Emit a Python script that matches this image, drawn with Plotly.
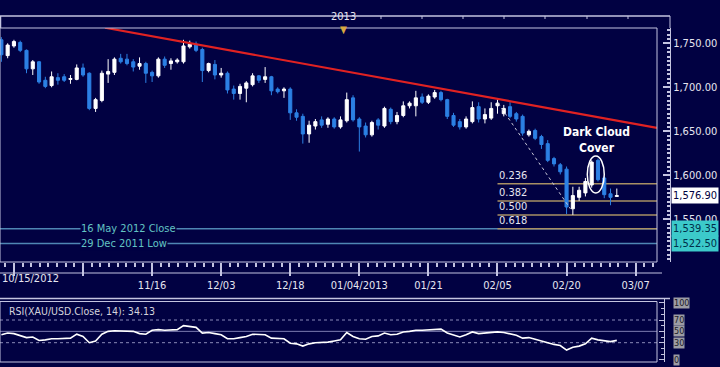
import numpy as np
import pandas as pd
import plotly.graph_objects as go

# ---------------- data ----------------
opens = [1754, 1736, 1747, 1751, 1742, 1721, 1729, 1708, 1702, 1711,
         1712, 1709, 1709, 1722, 1716, 1676, 1685, 1715, 1717, 1733,
         1732, 1729, 1724, 1727, 1717, 1713, 1732, 1727, 1729, 1729,
         1746, 1749, 1743, 1719, 1726, 1714, 1716, 1698, 1693, 1699,
         1703, 1713, 1709, 1712, 1698, 1696, 1698, 1671, 1667, 1647,
         1656, 1663, 1658, 1664, 1655, 1662, 1688, 1664, 1656, 1646,
         1663, 1656, 1675, 1661, 1668, 1679, 1679, 1689, 1683, 1689,
         1694, 1686, 1668, 1661, 1655, 1661, 1678, 1664, 1665, 1679,
         1670, 1678, 1670, 1667, 1646, 1651, 1644, 1636, 1619, 1612,
         1607, 1562, 1575, 1580, 1589, 1617, 1597, 1579, 1576.0]
highs = [1757, 1750, 1754, 1753, 1743, 1731, 1730, 1712, 1718, 1716,
         1715, 1714, 1726, 1727, 1717, 1688, 1719, 1732, 1734, 1738,
         1738, 1732, 1734, 1729, 1719, 1734, 1735, 1733, 1733, 1754,
         1753, 1752, 1745, 1728, 1731, 1722, 1718, 1702, 1704, 1707,
         1716, 1714, 1723, 1713, 1700, 1700, 1700, 1675, 1670, 1662,
         1664, 1667, 1666, 1666, 1667, 1694, 1691, 1666, 1660, 1662,
         1665, 1678, 1677, 1672, 1684, 1684, 1696, 1693, 1692, 1697,
         1696, 1687, 1671, 1664, 1667, 1684, 1683, 1676, 1683, 1687,
         1680, 1683, 1672, 1669, 1652, 1653, 1646, 1640, 1621, 1614,
         1610, 1587, 1587, 1597, 1617, 1619, 1599, 1585, 1585]
lows = [1729, 1733, 1745, 1740, 1716, 1714, 1704, 1699, 1700, 1703,
        1706, 1704, 1708, 1712, 1674, 1672, 1683, 1705, 1714, 1727,
        1725, 1718, 1720, 1705, 1706, 1711, 1722, 1720, 1727, 1727,
        1744, 1740, 1706, 1717, 1709, 1711, 1693, 1686, 1686, 1683,
        1701, 1705, 1705, 1691, 1693, 1688, 1663, 1662, 1636, 1637,
        1652, 1654, 1654, 1653, 1653, 1660, 1661, 1627, 1643, 1644,
        1652, 1654, 1658, 1658, 1666, 1676, 1667, 1681, 1681, 1687,
        1684, 1664, 1655, 1652, 1653, 1659, 1660, 1659, 1663, 1670,
        1667, 1665, 1661, 1645, 1644, 1640, 1630, 1615, 1610, 1601,
        1556, 1555, 1571, 1576, 1586, 1593, 1574, 1566, 1575.5]
closes = [1737, 1748, 1752, 1742, 1721, 1729, 1706, 1701, 1712, 1708,
          1708, 1710, 1722, 1714, 1676, 1686, 1716, 1718, 1732, 1729,
          1727, 1723, 1727, 1716, 1713, 1732, 1725, 1730, 1731, 1747,
          1749, 1742, 1719, 1727, 1714, 1716, 1697, 1693, 1701, 1705,
          1713, 1708, 1712, 1696, 1695, 1698, 1671, 1666, 1647, 1657,
          1661, 1657, 1664, 1655, 1663, 1686, 1663, 1655, 1646, 1660,
          1657, 1676, 1661, 1668, 1679, 1682, 1688, 1683, 1690, 1694,
          1686, 1667, 1657, 1655, 1664, 1677, 1664, 1669, 1676, 1682,
          1676, 1667, 1664, 1648, 1650, 1642, 1635, 1617, 1613, 1604,
          1564, 1577, 1583, 1593, 1615, 1595, 1578, 1575, 1576.9]
rsi = [44, 47, 46, 43, 39, 40, 34, 35, 37, 37,
       37, 38, 45, 41, 30, 33, 45, 50, 51, 51,
       50, 50, 46, 45, 52, 53, 52, 52, 53, 60,
       59, 57, 47, 48, 46, 44, 37, 37, 39, 41,
       45, 44, 44, 38, 38, 37, 29, 28, 24, 28,
       30, 30, 31, 33, 35, 48, 41, 37, 36, 41,
       42, 47, 44, 45, 49, 50, 52, 52, 53, 54,
       54, 47, 43, 40, 44, 49, 46, 47, 49, 49,
       48, 45, 43, 38, 39, 36, 33, 29, 27, 25,
       17, 22, 24, 28, 38, 35, 33, 32, 34.13]

holidays = ["2012-12-25", "2013-01-01"]
calendar = pd.bdate_range("2012-10-15", "2013-03-12").drop(pd.to_datetime(holidays))
dates = calendar[:len(closes)]
x_idx = list(range(len(dates)))

tick_dates = ["2012-10-17", "2012-11-01", "2012-11-16", "2012-12-03", "2012-12-18",
              "2013-01-04", "2013-01-21", "2013-02-05", "2013-02-20", "2013-03-07"]
tick_labels = ["", "", "11/16", "12/03", "12/18", "01/04/2013", "01/21", "02/05", "02/20", "03/07"]
tick_pos = [int(calendar.get_loc(pd.Timestamp(d))) for d in tick_dates]
year_pos = 54.5  # boundary between 12/31/2012 and 01/02/2013

last_price = 1576.90
support_levels = [1539.35, 1522.50]
support_labels = ["16 May 2012 Close", "29 Dec 2011 Low"]
fib_labels = ["0.236", "0.382", "0.500", "0.618"]
fib_prices = [1590.4, 1570.8, 1555.0, 1539.2]
fib_start = 79
trend_x = [16.5, 104.4]
trend_y = [1767.7, 1654.0]
swing_x = [79.1, 90.6]
swing_y = [1682, 1562]
pattern_box = dict(x0=93.3, x1=96.0, y0=1580, y1=1622)
rsi_levels = [100, 70, 50, 30, 0]

# ---------------- style ----------------
BG = "#010142"
FRAME = "#c4c4e0"
TXT = "#e6e6f0"
BLUE = "#2c80e4"
FONT = "DejaVu Sans Condensed, DejaVu Sans"
XR = [-0.22, 104.4]
W, H = 720, 367
def py(pix):  # paper y from pixel
    return 1 - pix / H
def px(pix):
    return pix / W

fig = go.Figure()
fig.add_trace(go.Candlestick(
    x=x_idx, open=opens, high=highs, low=lows, close=closes,
    increasing=dict(line=dict(color="#ffffff", width=1), fillcolor="#ffffff"),
    decreasing=dict(line=dict(color=BLUE, width=1), fillcolor=BLUE),
    whiskerwidth=0, xaxis="x", yaxis="y", showlegend=False, hoverinfo="skip"))
fig.add_trace(go.Scatter(x=trend_x, y=trend_y, mode="lines",
                         line=dict(color="#e02222", width=2.2), xaxis="x", yaxis="y",
                         showlegend=False, hoverinfo="skip"))
fig.add_trace(go.Scatter(x=swing_x, y=swing_y, mode="lines",
                         line=dict(color="#c8c8d8", width=1, dash="dot"), xaxis="x", yaxis="y",
                         showlegend=False, hoverinfo="skip"))
fig.add_trace(go.Scatter(x=x_idx, y=rsi, mode="lines",
                         line=dict(color="#ffffff", width=1.6), xaxis="x2", yaxis="y2",
                         showlegend=False, hoverinfo="skip"))

shapes = []
annotations = []
# support levels
for lvl, lab in zip(support_levels, support_labels):
    shapes.append(dict(type="line", xref="x domain", yref="y", x0=0, x1=1, y0=lvl, y1=lvl,
                       line=dict(color="#4f86b4", width=1.5), layer="below"))
    annotations.append(dict(xref="paper", yref="y", x=px(80), y=lvl, text=lab, showarrow=False,
                            font=dict(family=FONT, size=11, color="#62c4c4"), bgcolor=BG,
                            borderpad=0))
    annotations.append(dict(xref="paper", yref="y", x=px(671), y=lvl, xanchor="left",
                            text=f"{lvl:,.2f}", showarrow=False,
                            font=dict(family=FONT, size=11, color="#00304a"),
                            bgcolor="#3ccaca", borderpad=1))
# fib levels
for lab, p in zip(fib_labels, fib_prices):
    shapes.append(dict(type="line", xref="x", yref="y", x0=fib_start, x1=XR[1], y0=p, y1=p,
                       line=dict(color="#a89064", width=1.5), layer="below"))
    annotations.append(dict(xref="x", yref="y", x=fib_start, y=p, xanchor="left", yanchor="bottom",
                            text=lab, showarrow=False, yshift=0,
                            font=dict(family=FONT, size=11, color=TXT)))
# pattern ellipse
shapes.append(dict(type="circle", xref="x", yref="y", line=dict(color="#ffffff", width=1.5),
                   **pattern_box))
annotations.append(dict(xref="x", yref="y", x=94.8, y=1640, text="<b>Dark Cloud<br>Cover</b>",
                        showarrow=False, font=dict(family=FONT, size=12, color="#ffffff")))
# last price box
annotations.append(dict(xref="paper", yref="y", x=px(671), y=last_price, xanchor="left",
                        text=f"{last_price:,.2f}", showarrow=False,
                        font=dict(family=FONT, size=11, color="#000040"),
                        bgcolor="#ffffff", borderpad=1))
# frames
shapes += [
    dict(type="rect", xref="paper", yref="paper", x0=0, x1=px(657), y0=py(262), y1=py(28),
         line=dict(color=FRAME, width=1)),
    dict(type="line", xref="paper", yref="paper", x0=0, x1=px(670), y0=py(16), y1=py(16),
         line=dict(color=FRAME, width=1.5)),
    dict(type="line", xref="paper", yref="paper", x0=px(0.5), x1=px(0.5), y0=py(28), y1=py(16),
         line=dict(color=FRAME, width=1.5)),
    dict(type="line", xref="paper", yref="paper", x0=px(670), x1=px(670), y0=py(28), y1=py(16),
         line=dict(color=FRAME, width=1)),
    dict(type="line", xref="paper", yref="paper", x0=0, x1=px(662), y0=py(273), y1=py(273),
         line=dict(color=FRAME, width=1)),
    dict(type="line", xref="paper", yref="paper", x0=0, x1=px(670), y0=py(298.5), y1=py(298.5),
         line=dict(color=FRAME, width=1.5)),
    dict(type="rect", xref="paper", yref="paper", x0=0, x1=px(657), y0=py(362), y1=py(301.5),
         line=dict(color=FRAME, width=1)),
]
for xx in [381, 422, 463, 504, 545, 587, 628]:
    shapes.append(dict(type="line", xref="paper", yref="paper", x0=px(xx), x1=px(xx),
                       y0=py(16), y1=py(19), line=dict(color=FRAME, width=1)))
# RSI guide lines
for lvl, dash, col in [(70, "dot", "#8a8ab8"), (50, "solid", "#7c7cb0"), (30, "dot", "#8a8ab8")]:
    shapes.append(dict(type="line", xref="x2 domain", yref="y2", x0=0, x1=1, y0=lvl, y1=lvl,
                       line=dict(color=col, width=1, dash=dash), layer="below"))
for lvl in rsi_levels:
    annotations.append(dict(xref="paper", yref="y2", x=px(673), y=lvl, xanchor="left",
                            text=str(lvl), showarrow=False,
                            font=dict(family=FONT, size=9, color="#202028"),
                            bgcolor="#9c9ca4", borderpad=0))
annotations.append(dict(xref="paper", yref="paper", x=px(7), y=py(303), xanchor="left",
                        yanchor="top",
                        text=f"RSI(XAU/USD.Close, 14): {rsi[-1]:.2f}", showarrow=False,
                        font=dict(family=FONT, size=10.5, color="#d4d4dc")))
# time band labels
annotations.append(dict(xref="x", yref="paper", x=year_pos, y=py(8), text="2013", showarrow=False,
                        font=dict(family=FONT, size=11, color=TXT)))
annotations.append(dict(xref="x", yref="paper", x=year_pos, y=py(22), text="▼", showarrow=False,
                        font=dict(family=FONT, size=10, color="#d8a840")))
annotations.append(dict(xref="paper", yref="paper", x=0, y=py(287), xanchor="left",
                        text=dates[0].strftime("%m/%d/%Y"), showarrow=False,
                        font=dict(family=FONT, size=11, color=TXT)))

fig.update_layout(
    width=W, height=H, margin=dict(l=0, r=0, t=0, b=0),
    paper_bgcolor=BG, plot_bgcolor=BG, showlegend=False,
    font=dict(family=FONT, color=TXT),
    shapes=shapes, annotations=annotations,
    xaxis=dict(domain=[0, px(657)], range=XR, anchor="y", showgrid=False, zeroline=False,
               rangeslider=dict(visible=False), showline=False,
               tickmode="array", tickvals=tick_pos, ticktext=tick_labels,
               ticks="outside", ticklen=13, tickwidth=1.5, tickcolor=FRAME,
               minor=dict(ticks="outside", ticklen=4, tick0=2, dtick=11 / 8, tickcolor=FRAME,
                          showgrid=False),
               tickfont=dict(family=FONT, size=11, color=TXT)),
    yaxis=dict(domain=[py(262), py(28)], range=[1501.5, 1767.4], anchor="free",
               position=px(670), side="right", showgrid=False, zeroline=False,
               showline=True, linecolor=FRAME, linewidth=1,
               tick0=1500, dtick=50, tickformat=",.2f", ticks="inside", ticklen=7,
               tickcolor=FRAME, tickwidth=1.5,
               minor=dict(ticks="inside", ticklen=3, dtick=5, tickcolor=FRAME, showgrid=False),
               tickfont=dict(family=FONT, size=11, color=TXT)),
    xaxis2=dict(domain=[0, px(657)], range=XR, anchor="y2", matches="x", showgrid=False,
                zeroline=False, showticklabels=False, ticks=""),
    yaxis2=dict(domain=[py(362), py(299)], range=[-4, 107], anchor="free", position=px(664),
                side="right", showgrid=False, zeroline=False, showline=True, linecolor=FRAME,
                tickmode="array", tickvals=rsi_levels, ticks="inside", ticklen=5,
                tickcolor=FRAME, showticklabels=False,
                minor=dict(ticks="inside", ticklen=3, dtick=10, tickcolor=FRAME)),
)

fig.write_html("out.html", config={"displayModeBar": False},
               post_script="document.body.style.margin='0';document.body.style.background='" + BG + "';")
